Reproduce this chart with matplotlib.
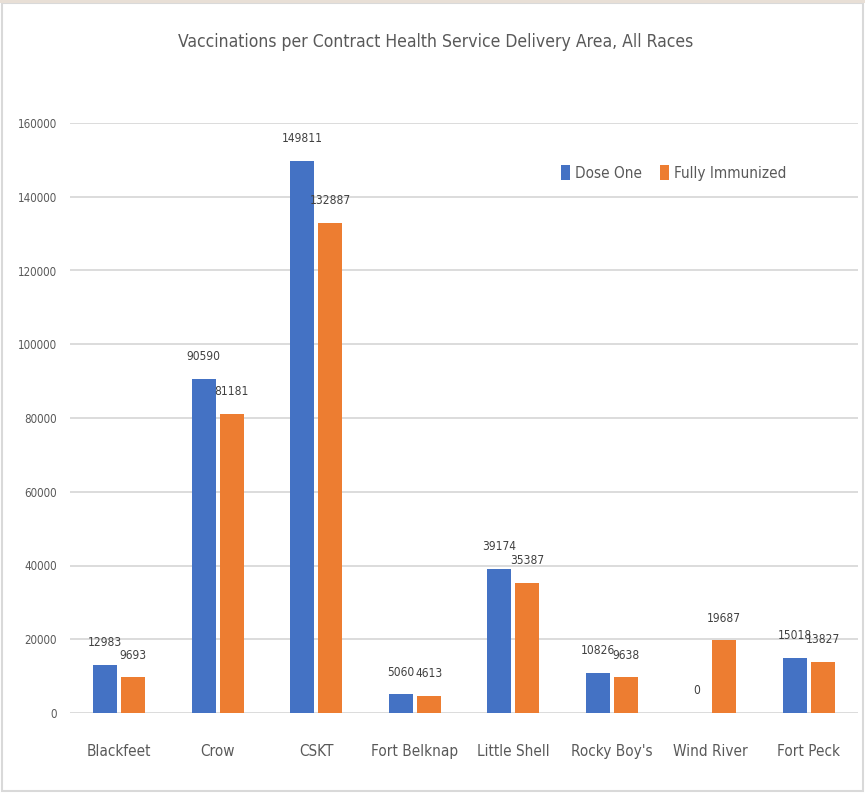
import numpy as np
import matplotlib.pyplot as plt
from matplotlib import font_manager as fm
from matplotlib.patches import Rectangle

areas = ["Blackfeet", "Crow", "CSKT", "Fort Belknap", "Little Shell",
         "Rocky Boy's", "Wind River", "Fort Peck"]
dose_one = [12983, 90590, 149811, 5060, 39174, 10826, 0, 15018]
fully_immunized = [9693, 81181, 132887, 4613, 35387, 9638, 19687, 13827]
yticks = [0, 20000, 40000, 60000, 80000, 100000, 120000, 140000, 160000]

blue = "#4472C4"
orange = "#ED7D31"
grey = "#595959"


# look for a narrow face, the reference text is quite condensed
def pick_font():
    narrow = ("condensed", "semi-condensed", "extra-condensed", "ultra-condensed")
    found = []
    for f in fm.fontManager.ttflist:
        if f.style != "normal":
            continue
        st = f.stretch
        is_narrow = ("Narrow" in f.name or "Condensed" in f.name or "Cond" in f.fname
                     or st in narrow or (isinstance(st, int) and st < 500))
        if is_narrow:
            w = f.weight if isinstance(f.weight, int) else 400
            found.append((abs(w - 350), f.fname, f.name))
    if found:
        found.sort()
        return found[0][1], found[0][2]
    return None, None


path, name = pick_font()
if path:
    def fp(size):
        return fm.FontProperties(fname=path, size=size)
    scale = 1.0
else:
    def fp(size):
        return fm.FontProperties(family="Liberation Sans", size=size)
    scale = 0.82

fig = plt.figure(figsize=(8.65, 7.93), dpi=100)
ax = fig.add_axes([70/865, 1 - 713/793, 788/865, 590/793])

x = np.arange(len(areas))
w = 0.245
off = 0.142
b1 = ax.bar(x - off, dose_one, w, color=blue, label="Dose One", zorder=3)
b2 = ax.bar(x + off, fully_immunized, w, color=orange, label="Fully Immunized", zorder=3)

for bars in (b1, b2):
    for r in bars:
        h = r.get_height()
        ax.annotate(f"{int(h)}", (r.get_x() + r.get_width()/2, h),
                    xytext=(0, 16), textcoords="offset points",
                    ha="center", va="center", color="#404040",
                    fontproperties=fp(8.6 * scale))

ax.set_xlim(-0.5, len(areas) - 0.5)
ax.set_ylim(0, 160000)
ax.set_yticks(yticks)
ax.set_yticklabels([str(t) for t in yticks])
ax.set_xticks(x)
ax.set_xticklabels(areas)
ax.tick_params(axis="y", length=0, pad=9.5, labelcolor=grey)
ax.tick_params(axis="x", length=0, pad=22, labelcolor=grey)
for lbl in ax.get_yticklabels():
    lbl.set_fontproperties(fp(8.3 * scale))
for lbl in ax.get_xticklabels():
    lbl.set_fontproperties(fp(11 * scale))
ax.grid(axis="y", color="#D9D9D9", linewidth=1.3, zorder=0)
for s in ax.spines.values():
    s.set_visible(False)

ax.legend(loc="center left", bbox_to_anchor=(485/788, 1 - (173-123)/590),
          ncol=2, frameon=False, prop=fp(11 * scale), handlelength=0.6, handleheight=1.05,
          handletextpad=0.3, columnspacing=1.2, labelcolor=grey, borderaxespad=0)

fig.text(436/865, 1 - 42/793, "Vaccinations per Contract Health Service Delivery Area, All Races",
         ha="center", va="center", color=grey, fontproperties=fp(12.6 * scale))

fig.patches.append(Rectangle((0.002, 0.002), 0.996, 0.994, transform=fig.transFigure,
                             fill=False, edgecolor="#D9D9D9", linewidth=1.5))
fig.patches.append(Rectangle((0, 0.996), 1, 0.004, transform=fig.transFigure,
                             facecolor="#E8DFD6", edgecolor="none"))

fig.savefig("out.png", dpi=100)
